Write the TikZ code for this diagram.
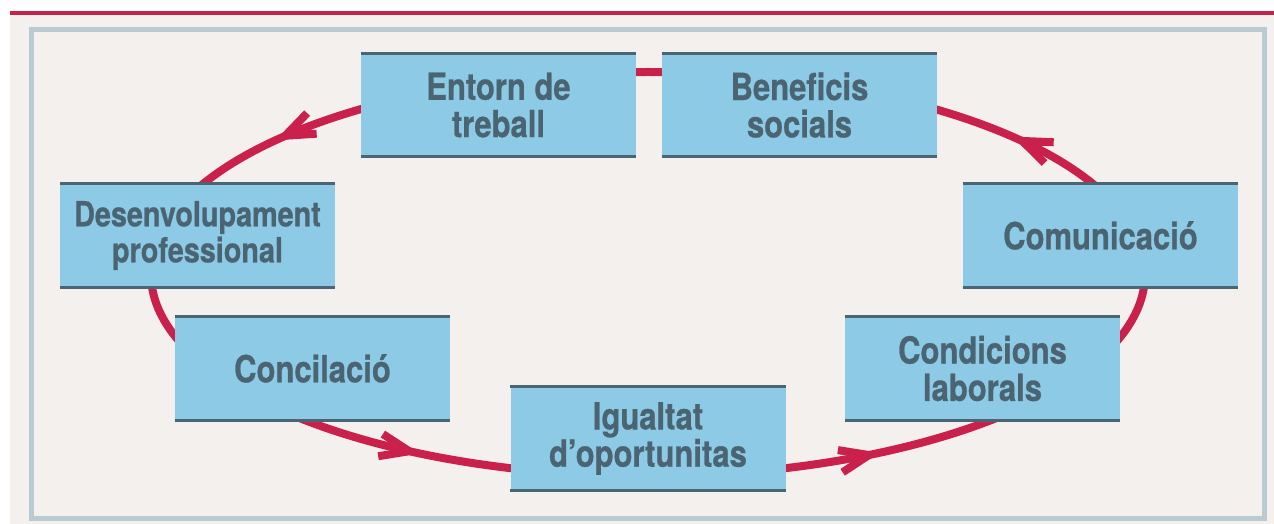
\documentclass[tikz,border=0pt]{standalone}
\usepackage{fontspec}
\setmainfont{TeX Gyre Heros}[FakeStretch=0.83]
\newfontfamily\boxfont{TeX Gyre Heros Bold}[FakeStretch=0.83,FakeBold=0.7]
\usetikzlibrary{arrows.meta}
\definecolor{bgbeige}{HTML}{F3F0ED}
\definecolor{redc}{HTML}{C9214B}
\definecolor{framec}{HTML}{B9CAD3}
\definecolor{boxblue}{HTML}{8DCAE6}
\definecolor{boxline}{HTML}{4A6573}
\definecolor{textc}{HTML}{4A6472}
\tikzset{
  stagebox/.style={fill=boxblue, minimum width=206.25pt, minimum height=79.5pt,
    inner sep=0pt, align=center, text=textc,
    font=\boxfont\fontsize{28}{28}\selectfont},
  edgeline/.style={boxline, line width=2.4pt},
  cycleline/.style={redc, line width=6pt},
  flowtip/.style={cycleline, -{Straight Barb[length=22pt,width=17pt]}}
}
\begin{document}
\begin{tikzpicture}[x=0.75pt,y=-0.75pt]
\useasboundingbox (0,0) rectangle (1274,524);
\fill[white] (0,0) rectangle (1274,524);
\fill[bgbeige] (10,13) rectangle (1274,524);
\draw[redc, line width=3pt] (10,13) -- (1274,13);
\draw[framec, line width=3.75pt] (31.5,29.5) rectangle (1264.5,518.5);
% cycle
\draw[cycleline] (648,274) ellipse [x radius=372.75pt, y radius=151.5pt];
\coordinate (a1s) at (302.4,127.8); \coordinate (a1e) at (275.2,140.4);
\coordinate (a2s) at (390.7,447.3); \coordinate (a2e) at (420.1,453.5);
\coordinate (a3s) at (850.5,459.0); \coordinate (a3e) at (879.8,452.7);
\coordinate (a4s) at (1039.6,148.5); \coordinate (a4e) at (1012.1,136.5);
\draw[flowtip] (a1s) -- (a1e);
\draw[flowtip] (a2s) -- (a2e);
\draw[flowtip] (a3s) -- (a3e);
\draw[flowtip] (a4s) -- (a4e);
% boxes
\node[stagebox] (entorn) at (498.5,105) {Entorn de\\treball};
\node[stagebox] (benef) at (799.5,105) {Beneficis\\socials};
\node[stagebox, font=\boxfont\fontsize{26}{27}\selectfont] (desenv) at (197.5,235.5) {Desenvolupament\\professional};
\node[stagebox] (comun) at (1100.5,235.5) {Comunicació};
\node[stagebox] (concil) at (312.5,368.5) {Concilació};
\node[stagebox] (condic) at (982.5,368.5) {Condicions\\laborals};
\node[stagebox] (igual) at (648,438.5) {Igualtat\\d’oportunitas};
\foreach \n in {entorn,benef,desenv,comun,concil,condic,igual}{
  \draw[edgeline] ([yshift=-1.2pt]\n.north west) -- ([yshift=-1.2pt]\n.north east);
  \draw[edgeline] ([yshift=1.2pt]\n.south west) -- ([yshift=1.2pt]\n.south east);
}
\end{tikzpicture}
\end{document}
